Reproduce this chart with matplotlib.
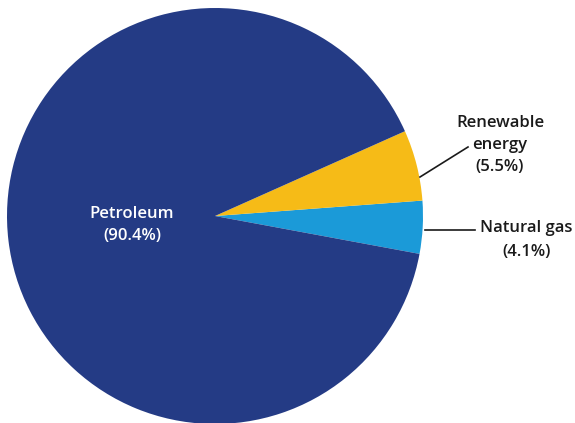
import matplotlib.pyplot as plt

# Energy sources (share in percent), counter-clockwise from the gas slice
sources = ['Natural gas', 'Renewable\nenergy', 'Petroleum']
shares = [4.1, 5.5, 90.4]
colors = ['#1B9AD8', '#F6BB17', '#243B85']

plt.rcParams['font.family'] = ['Open Sans', 'DejaVu Sans']

fig = plt.figure(figsize=(5.75, 4.23), dpi=100)
ax = fig.add_axes([0, 0, 1, 1])

# pie in pixel-like coordinates
wedges, _ = ax.pie(shares, colors=colors, startangle=-10.5, counterclock=True,
                   center=(215, 207), radius=208, frame=True,
                   wedgeprops=dict(linewidth=0))

ax.set_xlim(0, 575)
ax.set_ylim(0, 423)
ax.set_aspect('equal')
ax.axis('off')

fs = 12

# Labels
ax.text(132, 198, f"{sources[2]}\n({shares[2]}%)", color='white', fontsize=fs,
        fontweight='semibold', ha='center', va='center', linespacing=1.5)

ax.text(500, 278, f"{sources[1]}\n({shares[1]}%)", color='#1a1a1a', fontsize=fs,
        fontweight='semibold', ha='center', va='center', linespacing=1.5)
ax.plot([420, 468], [246, 276], color='#1a1a1a', lw=1.2)

ax.text(480, 195, sources[0], color='#1a1a1a', fontsize=fs,
        fontweight='semibold', ha='left', va='center')
ax.text(527, 171, f"({shares[0]}%)", color='#1a1a1a', fontsize=fs,
        fontweight='semibold', ha='center', va='center')
ax.plot([425, 475], [193, 193], color='#1a1a1a', lw=1.2)

fig.savefig('out.png', dpi=100)
